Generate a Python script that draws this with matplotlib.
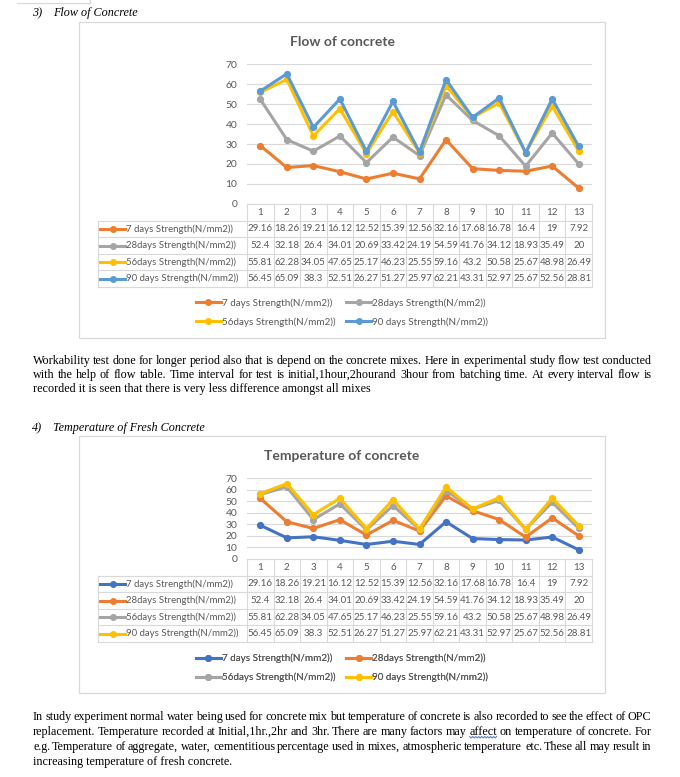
import matplotlib
matplotlib.use("Agg")
import matplotlib.pyplot as plt
import numpy as np
from matplotlib.lines import Line2D
from matplotlib.patches import Rectangle

# ---- data ----
categories = list(range(1, 14))
days7 = [29.16, 18.26, 19.21, 16.12, 12.52, 15.39, 12.56, 32.16, 17.68, 16.78, 16.4, 19, 7.92]
days28 = [52.4, 32.18, 26.4, 34.01, 20.69, 33.42, 24.19, 54.59, 41.76, 34.12, 18.93, 35.49, 20]
days56 = [55.81, 62.28, 34.05, 47.65, 25.17, 46.23, 25.55, 59.16, 43.2, 50.58, 25.67, 48.98, 26.49]
days90 = [56.45, 65.09, 38.3, 52.51, 26.27, 51.27, 25.97, 62.21, 43.31, 52.97, 25.67, 52.56, 28.81]
series_names = ["7 days Strength(N/mm2))", "28days Strength(N/mm2))",
                "56days Strength(N/mm2))", "90 days Strength(N/mm2))"]
yticks = [0, 10, 20, 30, 40, 50, 60, 70]

flow_colors = ["#ED7D31", "#A5A5A5", "#FFC000", "#5B9BD5"]
temp_colors = ["#4472C4", "#ED7D31", "#A5A5A5", "#FFC000"]

para1 = ["Workability test done for longer period also that is depend on the concrete mixes. Here in experimental study flow test conducted",
         "with the help of flow table. Time interval for test is initial,1hour,2hourand 3hour from batching time. At every interval flow is",
         "recorded it is seen that there is very less difference amongst all mixes"]
para2 = ["In study experiment normal water being used for concrete mix but temperature of concrete is also recorded to see the effect of OPC",
         "replacement. Temperature recorded at Initial,1hr.,2hr and 3hr. There are many factors may affect on temperature of concrete. For",
         "e.g. Temperature of aggregate, water, cementitious percentage used in mixes, atmospheric temperature etc. These all may result in",
         "increasing temperature of fresh concrete."]

W, H = 680, 777
GRID = "#D9D9D9"
TXT = "#595959"
SANS = ["Lato", "DejaVu Sans"]
SERIF = ["Liberation Serif", "DejaVu Serif"]
BODY = 8.7

fig = plt.figure(figsize=(W / 100, H / 100), dpi=100)
page = fig.add_axes([0, 0, 1, 1])
page.set_xlim(0, W)
page.set_ylim(H, 0)
page.axis("off")
renderer = fig.canvas.get_renderer()


def rect(l, t, r, b):
    return [l / W, 1 - b / H, (r - l) / W, (b - t) / H]


def squiggle(xa, xb, y):
    xs = np.arange(xa, xb + 0.1, 1.5)
    ys = y + np.where(np.arange(len(xs)) % 2 == 0, 0, 1.5)
    page.plot(xs, ys, color="#4A6FD8", lw=0.7)


def justify(lines, y0, step, x0=33, x1=652, mark=None):
    # y0 is the centre of the first line; text is set on a common baseline
    kw = dict(fontsize=BODY, family=SERIF, color="black", va="baseline")
    for i, line in enumerate(lines):
        y = round(y0 + i * step + 3.5)
        if i == len(lines) - 1:
            page.text(x0, y, line, ha="left", **kw)
            continue
        words = line.split()
        widths = []
        for w in words:
            t = page.text(0, 0, w, **kw)
            widths.append(t.get_window_extent(renderer).width)
            t.remove()
        gap = (x1 - x0 - sum(widths)) / (len(words) - 1)
        x = x0
        for w, wd in zip(words, widths):
            page.text(round(x), y, w, ha="left", **kw)
            if w == mark:
                squiggle(x, x + wd, y + 1.5)
            x += wd + gap


def draw_chart(frame, title, title_y, plot_top, plot_bottom, legend_y, colors):
    l, t, r, b = frame
    page.add_patch(Rectangle((l, t), r - l, b - t, fill=False, ec=GRID, lw=0.9))
    page.text(342, title_y, title, ha="center", va="center", fontsize=10,
              fontweight="bold", color=TXT, family=SANS)

    ax = fig.add_axes(rect(247, plot_top, 592, plot_bottom))
    ax.patch.set_alpha(0)
    ax.set_xlim(0.5, 13.5)
    ax.set_ylim(0, 70)
    ax.set_yticks(yticks)
    ax.set_xticks([])
    ax.tick_params(axis="y", length=0, pad=7, labelsize=7.4, labelcolor=TXT)
    for lab in ax.get_yticklabels():
        lab.set_family(SANS)
    ax.grid(axis="y", color=GRID, lw=0.8)
    for s in ax.spines.values():
        s.set_visible(False)
    all_series = [days7, days28, days56, days90]
    for vals, c in zip(all_series, colors):
        ax.plot(categories, vals, color=c, lw=2.2, marker="o", ms=4.2, clip_on=False,
                solid_capstyle="round")

    # data table below the plot
    table_bottom = plot_bottom + 83
    upx = 345 / 13.0
    x0 = 0.5 - (247 - 98) / upx
    tax = fig.add_axes(rect(98, plot_bottom, 592, table_bottom))
    tax.patch.set_alpha(0)
    tax.set_xlim(x0, 13.5)
    tax.set_ylim(4, -1)
    tax.axis("off")
    lk = dict(color=GRID, lw=0.8, clip_on=False)
    for k in range(14):
        tax.plot([0.5 + k, 0.5 + k], [-1, 4], **lk)
    tax.plot([x0, x0], [0, 4], **lk)
    tax.plot([0.5, 13.5], [-1, -1], **lk)
    for rr in range(5):
        tax.plot([x0, 13.5], [rr, rr], **lk)
    nk = dict(ha="center", va="center", fontsize=7.0, color=TXT, family=SANS)
    for c in categories:
        tax.text(c, -0.5, str(c), **nk)
    for rr, (vals, name, col) in enumerate(zip(all_series, series_names, colors)):
        ym = rr + 0.5
        xa, xb = x0 + 2 / upx, x0 + 27 / upx
        tax.plot([xa, xb], [ym, ym], color=col, lw=2.2, clip_on=False)
        tax.plot([(xa + xb) / 2], [ym], color=col, marker="o", ms=4, clip_on=False)
        tax.text(x0 + 28 / upx, ym, name, ha="left", va="center", fontsize=6.9,
                 color=TXT, family=SANS)
        for c, v in zip(categories, vals):
            tax.text(c, ym, f"{v:g}", **nk)

    handles = [Line2D([], [], color=c, lw=2.2, marker="o", ms=4) for c in colors]
    order = [0, 2, 1, 3]
    leg = page.legend([handles[i] for i in order], [series_names[i] for i in order],
                      ncol=2, loc="center", bbox_to_anchor=(342, legend_y),
                      bbox_transform=page.transData, frameon=False, fontsize=7.1,
                      handlelength=2.6, handletextpad=0.1, columnspacing=1.0,
                      labelspacing=0.95, borderpad=0, borderaxespad=0)
    for txt in leg.get_texts():
        txt.set_color(TXT)
        txt.set_family(SANS)
    page.add_artist(leg)


# corner of a box from the previous page
page.plot([17, 90], [3, 3], color=GRID, lw=0.9)
page.plot([90, 90], [0, 3], color=GRID, lw=0.9)

page.text(32, 13, "3)", fontsize=BODY, family=SERIF, style="italic", va="center")
page.text(53, 13, "Flow of Concrete", fontsize=BODY, family=SERIF, style="italic", va="center")
draw_chart((79, 22, 605, 338), "Flow of concrete", 42, 64, 204, 312.5, flow_colors)

justify(para1, 360, 14.5)

page.text(32, 428, "4)", fontsize=BODY, family=SERIF, style="italic", va="center")
page.text(53, 428, "Temperature of Fresh Concrete", fontsize=BODY, family=SERIF,
          style="italic", va="center")
draw_chart((79, 436, 605, 693), "Temperature of concrete", 456, 478, 559, 668, temp_colors)

justify(para2, 717, 14.8, mark="affect")

fig.savefig("out.png", dpi=100)
